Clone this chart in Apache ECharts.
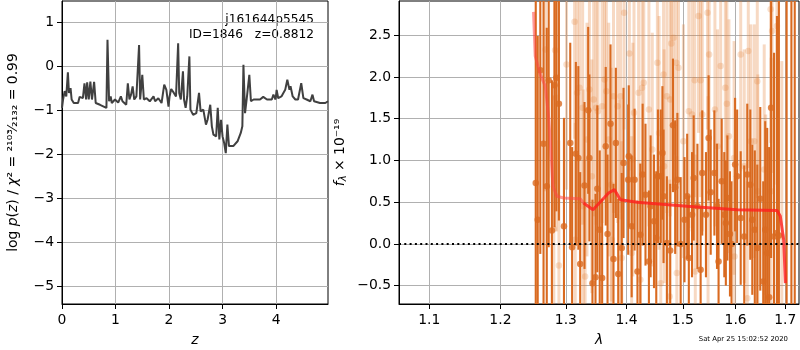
<!DOCTYPE html>
<html>
<head>
<meta charset="utf-8">
<script src="https://cdn.jsdelivr.net/npm/echarts@6/dist/echarts.min.js"></script>
<style>html,body{margin:0;padding:0;background:#fff}#c{width:800px;height:350px}</style>
</head>
<body>
<div id="c"></div>
<script>
// ---- Left panel: log p(z) ----
const zGrid = [0,0.02,0.05,0.07,0.08,0.11,0.13,0.16,0.18,0.22,0.30,0.33,0.39,0.42,0.45,0.47,0.50,0.53,0.56,0.60,0.63,0.71,0.83,0.85,0.88,0.91,0.93,0.99,1.05,1.10,1.13,1.20,1.23,1.26,1.29,1.32,1.35,1.39,1.44,1.46,1.50,1.53,1.58,1.64,1.71,1.74,1.80,1.86,1.91,1.95,1.99,2.01,2.04,2.09,2.13,2.17,2.19,2.22,2.26,2.28,2.31,2.34,2.38,2.40,2.45,2.51,2.56,2.59,2.64,2.69,2.72,2.77,2.80,2.83,2.88,2.91,2.94,2.97,3.00,3.03,3.06,3.09,3.12,3.15,3.20,3.28,3.34,3.37,3.39,3.42,3.45,3.50,3.53,3.58,3.70,3.76,3.83,3.92,3.95,3.99,4.01,4.04,4.10,4.17,4.21,4.25,4.27,4.31,4.36,4.41,4.47,4.51,4.57,4.64,4.68,4.71,4.82,4.92,4.97];
const logPz = [-0.95,-0.76,-0.57,-0.54,-0.69,-0.14,-0.61,-0.50,-0.76,-0.84,-0.84,-0.70,-0.73,-0.39,-0.76,-0.37,-0.76,-0.35,-0.76,-0.36,-0.84,-0.88,-0.95,0.60,-0.80,-0.69,-0.84,-0.76,-0.83,-0.69,-0.80,-0.88,-0.39,-0.76,-0.65,-0.46,-0.76,-0.69,0.48,-0.76,-0.20,-0.76,-0.73,-0.80,-0.69,-0.80,-0.73,-0.84,-0.42,-0.54,-0.92,-0.69,-0.52,-0.61,-0.69,0.52,-0.61,-0.76,-0.12,-0.76,-0.95,-0.69,0.22,-0.99,-1.11,-1.07,-0.61,-1.03,-0.99,-1.33,-1.22,-0.88,-1.37,-1.56,-1.60,-0.95,-1.67,-1.22,-1.60,-1.75,-1.98,-1.33,-1.82,-1.86,-1.82,-1.71,-1.52,-1.37,0.03,-1.07,-0.76,-0.20,-0.80,-0.76,-0.76,-0.70,-0.76,-0.76,-0.65,-0.76,-0.54,-0.73,-0.69,-0.54,-0.31,-0.54,-0.46,-0.69,-0.76,-0.76,-0.39,-0.73,-0.76,-0.80,-0.65,-0.80,-0.84,-0.84,-0.80];
const leftXTicks = [0,1,2,3,4];
const leftYTicks = [-5,-4,-3,-2,-1,0,1];

// ---- Right panel: spectrum ----
const darkLam = [1.253,1.256,1.260,1.265,1.270,1.273,1.278,1.282,1.285,1.289,1.297,1.307,1.310,1.316,1.320,1.323,1.330,1.336,1.338,1.343,1.348,1.351,1.355,1.359,1.365,1.368,1.373,1.378,1.382,1.386,1.392,1.395,1.403,1.404,1.409,1.414,1.419,1.424,1.428,1.433,1.439,1.442,1.448,1.452,1.455,1.460,1.463,1.465,1.471,1.477,1.482,1.486,1.490,1.496,1.503,1.508,1.511,1.517,1.520,1.527,1.533,1.536,1.543,1.548,1.552,1.559,1.564,1.567,1.573,1.578,1.581,1.584,1.589,1.592,1.599,1.603,1.610,1.617,1.623,1.629,1.633,1.638,1.643,1.649,1.655,1.659,1.663,1.667,1.671,1.677,1.683,1.687,1.703,1.713,1.720];
const darkFlux = [0.73,0.29,2.08,1.20,0.69,1.96,0.16,1.90,1.99,1.68,0.21,1.21,-0.04,1.08,1.03,-0.24,0.70,1.60,1.03,-0.47,-0.40,0.66,0.17,-0.41,1.17,0.12,1.44,-0.18,1.21,-0.36,-0.05,0.97,0.77,1.05,0.21,0.77,-0.33,0.11,0.83,0.59,-0.21,0.45,0.27,0.07,0.81,0.81,1.09,0.57,0.01,-0.08,1.42,0.68,0.77,0.00,0.29,0.57,-0.17,0.35,0.79,0.45,-0.31,0.85,0.35,1.27,0.62,0.85,0.45,-0.21,0.75,0.35,0.25,0.55,0.12,0.00,0.95,0.81,0.31,0.09,0.83,0.71,0.29,0.17,-0.05,0.54,-0.45,0.17,-0.11,-0.64,1.63,0.09,0.13,0.10,3.2,3.2,3.2];
const darkErr = [2.4,2.2,2.2,2.0,1.9,2.0,1.8,1.7,1.6,1.4,1.3,1.2,1.2,1.1,1.1,1.1,1.0,1.0,1.0,1.0,1.0,1.0,0.95,0.95,0.95,0.95,0.95,0.9,0.9,0.9,0.9,0.9,0.9,0.85,0.85,0.85,0.85,0.85,0.85,0.85,0.85,0.85,0.8,0.8,0.8,0.8,0.8,0.8,0.8,0.8,0.8,0.8,0.8,0.8,0.75,0.75,0.75,0.75,0.75,0.75,0.75,0.75,0.75,0.75,0.75,0.75,0.75,0.75,0.75,0.75,0.75,0.75,0.75,0.75,0.8,0.8,0.8,0.85,0.85,0.9,0.9,0.95,1.0,1.1,1.2,1.3,1.5,1.8,1.8,2.2,2.6,3.0,5,5,5];

const lightLam = [1.268,1.281,1.283,1.285,1.289,1.301,1.314,1.315,1.318,1.322,1.327,1.328,1.331,1.334,1.338,1.342,1.345,1.349,1.352,1.359,1.363,1.366,1.370,1.374,1.375,1.378,1.385,1.389,1.390,1.392,1.396,1.405,1.409,1.411,1.413,1.421,1.424,1.427,1.430,1.439,1.445,1.454,1.457,1.460,1.465,1.466,1.471,1.476,1.477,1.479,1.483,1.488,1.489,1.492,1.501,1.511,1.517,1.522,1.523,1.529,1.533,1.536,1.546,1.547,1.549,1.560,1.565,1.571,1.580,1.583,1.587,1.597,1.598,1.610,1.617,1.623,1.625,1.630,1.637,1.643,1.644,1.657,1.660,1.670,1.671,1.673,1.683,1.693];
const lightFlux = [2.33,0.18,2.32,1.75,-0.26,2.15,2.66,0.05,1.81,1.87,1.63,0.45,-0.39,1.25,1.85,0.81,1.73,1.63,1.59,1.65,1.97,1.83,1.25,0.71,0.05,1.77,1.65,0.33,1.77,-0.17,2.77,2.28,-0.11,1.01,1.57,1.81,-0.43,1.87,1.93,1.61,1.13,2.17,1.33,-0.47,2.03,0.93,1.77,-0.63,1.73,2.40,2.47,2.17,-0.35,2.11,1.23,1.59,1.55,1.96,-0.33,2.73,1.96,1.55,2.77,0.37,2.27,1.61,1.17,2.13,1.87,1.68,1.29,1.03,-0.15,2.27,0.93,-0.65,2.31,1.23,1.23,1.95,0.63,0.89,0.05,2.81,0.63,2.55,2.61,0.09];
const lightErr = [1.7,1.6,1.6,1.6,1.5,1.5,1.4,1.4,1.4,1.4,1.4,1.4,1.4,1.4,1.4,1.4,1.4,1.4,1.4,1.4,1.4,1.4,1.4,1.4,1.4,1.4,1.4,1.4,1.4,1.4,1.4,1.4,1.4,1.4,1.4,1.4,1.4,1.4,1.4,1.4,1.4,1.4,1.4,1.4,1.4,1.4,1.4,1.4,1.4,1.4,1.4,1.4,1.4,1.4,1.4,1.4,1.4,1.4,1.4,1.4,1.4,1.4,1.4,1.4,1.4,1.4,1.4,1.4,1.4,1.4,1.4,1.4,1.4,1.4,1.4,1.4,1.4,1.4,1.4,1.4,1.4,1.5,1.5,1.6,1.6,1.7,1.9,2.1];

const modelLam = [1.2496,1.2522,1.2599,1.2677,1.2728,1.2765,1.2796,1.2859,1.2964,1.3232,1.3285,1.3439,1.3698,1.3795,1.3897,1.4184,1.5075,1.6027,1.6832,1.6900,1.6969,1.7005];
const modelFlux = [2.78,2.25,2.03,1.89,1.53,1.10,0.69,0.57,0.55,0.54,0.49,0.41,0.61,0.65,0.53,0.50,0.45,0.41,0.40,0.33,0.05,-0.47];

const rightXTicks = [1.1,1.2,1.3,1.4,1.5,1.6,1.7];
const rightYTicks = [-0.5,0,0.5,1,1.5,2,2.5];

const LAM_MIN = 1.06, LAM_MAX = 1.729;
const FL_MIN = -0.72, FL_MAX = 2.91;

const FONT = 'DejaVu Sans';
const FS = 13.9;
const lg = Math.log10;
const fmtMinus = v => String(v).replace('-', '\u2212');

function errRender(color, width, ymin, ymax) {
  return function (params, api) {
    const x = api.value(0);
    const lo = Math.max(api.value(1), ymin);
    const hi = Math.min(api.value(2), ymax);
    if (hi <= lo) return;
    const p1 = api.coord([x, lo]);
    const p2 = api.coord([x, hi]);
    return { type: 'line', shape: { x1: p1[0], y1: p1[1], x2: p2[0], y2: p2[1] },
             style: { stroke: color, lineWidth: width } };
  };
}

const darkColor = '#d96a20';
const lightColor = 'rgba(228,128,55,0.30)';

const axisCommon = {
  axisLine: { show: true, onZero: false, lineStyle: { color: '#000', width: 1 } },
  axisTick: { show: true, length: 5, lineStyle: { color: '#000', width: 1 } },
  splitLine: { show: true, lineStyle: { color: '#b0b0b0', width: 1 } },
};
const richItalic = { fontStyle: 'italic', fontSize: FS, fontFamily: FONT, color: '#000' };

const chart = echarts.init(document.getElementById('c'), null, { renderer: 'canvas' });
chart.setOption({
  animation: false,
  backgroundColor: '#fff',
  textStyle: { fontFamily: FONT },
  grid: [
    { left: 62, right: 472, top: 1, bottom: 46, show: true, borderColor: '#000', borderWidth: 1, containLabel: false, outerBoundsMode: 'none' },
    { left: 399, right: 1, top: 1, bottom: 46, show: true, borderColor: '#000', borderWidth: 1, containLabel: false, outerBoundsMode: 'none' }
  ],
  xAxis: [
    Object.assign({}, axisCommon, {
      gridIndex: 0, type: 'value', min: 0, max: 4.97,
      axisTick: Object.assign({}, axisCommon.axisTick, { customValues: leftXTicks }),
      axisLabel: { customValues: leftXTicks, color: '#000', fontSize: FS, fontFamily: FONT, margin: 9, formatter: fmtMinus },
      name: '{i|z}', nameLocation: 'middle', nameGap: 29,
      nameTextStyle: { rich: { i: richItalic } }
    }),
    Object.assign({}, axisCommon, {
      gridIndex: 1, type: 'value', min: lg(LAM_MIN), max: lg(LAM_MAX),
      axisTick: Object.assign({}, axisCommon.axisTick, { customValues: rightXTicks.map(lg) }),
      axisLabel: { customValues: rightXTicks.map(lg), color: '#000', fontSize: FS, fontFamily: FONT, margin: 9,
                   formatter: v => Math.pow(10, v).toFixed(1) },
      name: '{i|λ}', nameLocation: 'middle', nameGap: 29,
      nameTextStyle: { rich: { i: richItalic } }
    })
  ],
  yAxis: [
    Object.assign({}, axisCommon, {
      gridIndex: 0, type: 'value', min: -5.41, max: 1.48,
      axisTick: Object.assign({}, axisCommon.axisTick, { customValues: leftYTicks }),
      axisLabel: { customValues: leftYTicks, color: '#000', fontSize: FS, fontFamily: FONT, margin: 8, formatter: fmtMinus },
      name: 'log {i|p}({i|z}) / {i|χ}² = ²¹⁰³⁄₂₁₃₂ = 0.99', nameLocation: 'middle', nameGap: 42, nameRotate: 90,
      nameTextStyle: { color: '#000', fontSize: FS, fontFamily: FONT, rich: { i: richItalic } }
    }),
    Object.assign({}, axisCommon, {
      gridIndex: 1, type: 'value', min: FL_MIN, max: FL_MAX,
      axisTick: Object.assign({}, axisCommon.axisTick, { customValues: rightYTicks }),
      axisLabel: { customValues: rightYTicks, color: '#000', fontSize: FS, fontFamily: FONT, margin: 8,
                   formatter: v => fmtMinus(v.toFixed(1)) },
      name: '{i|f}{s|λ} × 10⁻¹⁹', nameLocation: 'middle', nameGap: 51, nameRotate: 90,
      nameTextStyle: { color: '#000', fontSize: FS, fontFamily: FONT,
        rich: { i: richItalic,
                s: { fontStyle: 'italic', fontSize: 10, fontFamily: FONT, color: '#000', padding: [6, 0, 0, 0] } } }
    })
  ],
  graphic: [
    { type: 'text', x: 314, y: 20, style: { text: 'j161644p5545', font: '12.2px "DejaVu Sans"', fill: '#000', align: 'right', verticalAlign: 'middle' } },
    { type: 'text', x: 314, y: 35, style: { text: 'ID=1846   z=0.8812', font: '12.2px "DejaVu Sans"', fill: '#000', align: 'right', verticalAlign: 'middle' } },
    { type: 'text', x: 788, y: 339, style: { text: 'Sat Apr 25 15:02:52 2020', font: '6.9px "DejaVu Sans"', fill: '#000', align: 'right', verticalAlign: 'middle' } }
  ],
  series: [
    { type: 'line', xAxisIndex: 0, yAxisIndex: 0, data: zGrid.map((z, i) => [z, logPz[i]]),
      showSymbol: false, lineStyle: { color: '#404040', width: 2 }, z: 3 },
    { type: 'custom', xAxisIndex: 1, yAxisIndex: 1, renderItem: errRender(lightColor, 3, FL_MIN, FL_MAX),
      data: lightLam.map((l, i) => [lg(l), lightFlux[i] - lightErr[i], lightFlux[i] + lightErr[i]]), z: 2 },
    { type: 'scatter', xAxisIndex: 1, yAxisIndex: 1, symbolSize: 6.5,
      itemStyle: { color: lightColor }, data: lightLam.map((l, i) => [lg(l), lightFlux[i]]), z: 2 },
    { type: 'custom', xAxisIndex: 1, yAxisIndex: 1, renderItem: errRender(darkColor, 2.1, FL_MIN, FL_MAX),
      data: darkLam.map((l, i) => [lg(l), darkFlux[i] - darkErr[i], darkFlux[i] + darkErr[i]]), z: 3 },
    { type: 'scatter', xAxisIndex: 1, yAxisIndex: 1, symbolSize: 6.5,
      itemStyle: { color: darkColor }, data: darkLam.map((l, i) => [lg(l), darkFlux[i]]), z: 3 },
    { type: 'line', xAxisIndex: 1, yAxisIndex: 1, showSymbol: false,
      data: modelLam.slice(0, 11).map((l, i) => [lg(l), modelFlux[i]]),
      lineStyle: { color: 'rgba(255,70,70,0.55)', width: 3 }, z: 4 },
    { type: 'line', xAxisIndex: 1, yAxisIndex: 1, showSymbol: false,
      data: modelLam.slice(10).map((l, i) => [lg(l), modelFlux[i + 10]]),
      lineStyle: { color: 'rgba(255,30,30,0.8)', width: 3 }, z: 4 },
    { type: 'line', xAxisIndex: 1, yAxisIndex: 1, showSymbol: false,
      data: [[lg(LAM_MIN), 0], [lg(LAM_MAX), 0]],
      lineStyle: { color: '#000', width: 2, type: [2, 3.3] }, z: 5 }
  ]
});
</script>
</body>
</html>
